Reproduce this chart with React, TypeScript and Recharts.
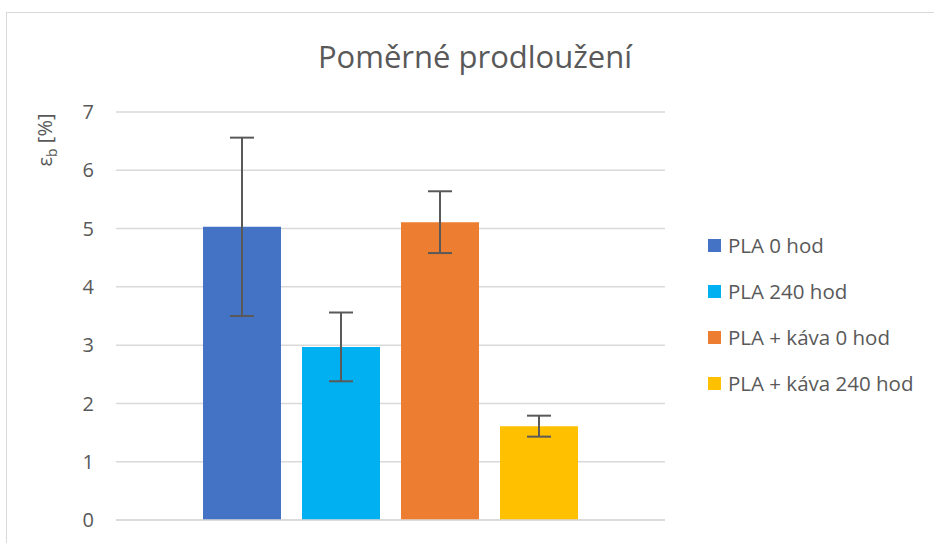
import React from 'react';
import { BarChart, Bar, XAxis, YAxis, CartesianGrid, ErrorBar } from 'recharts';

const categories = [''];
const seriesNames = ['PLA 0 hod', 'PLA 240 hod', 'PLA + káva 0 hod', 'PLA + káva 240 hod'];
const seriesValues = [5.03, 2.97, 5.11, 1.61];
const seriesErrors = [1.53, 0.59, 0.53, 0.18];
const yTicks = [0, 1, 2, 3, 4, 5, 6, 7];

const colors = ['#4472C4', '#00B0F0', '#ED7D31', '#FFC000'];
const textColor = '#595959';
const font = '"Open Sans", sans-serif';

const data = categories.map((name) => {
    const row: any = { name };
    seriesNames.forEach((_, i) => {
        row['s' + i] = seriesValues[i];
        row['e' + i] = seriesErrors[i];
    });
    return row;
});

const AxisTitle = (props: any) => {
    const { viewBox } = props;
    const x = viewBox.x + 52;
    const y = viewBox.y + 28;
    return (
        <text
            x={x}
            y={y}
            transform={`rotate(-90 ${x} ${y})`}
            textAnchor="middle"
            fill={textColor}
            fontSize={20}
            fontFamily={font}
        >
            ε<tspan fontSize={14} dy={5}>b</tspan>
            <tspan dy={-5}> [%]</tspan>
        </text>
    );
};

// legend drawn beside the chart, in series order
const LegendBox = () => (
    <div style={{ position: 'absolute', left: 708, top: 222, fontFamily: font }}>
        {seriesNames.map((s, i) => (
            <div key={s} style={{ display: 'flex', alignItems: 'center', height: 46 }}>
                <span style={{ width: 13, height: 13, background: colors[i], marginRight: 7, display: 'inline-block' }} />
                <span style={{ fontSize: 20.5, color: textColor, whiteSpace: 'nowrap' }}>{s}</span>
            </div>
        ))}
    </div>
);

const App: React.FC = () => {
    return (
        <div style={{ position: 'fixed', left: 0, top: 0, width: 934, height: 543, background: '#fff', overflow: 'hidden' }}>
            <div style={{ position: 'absolute', left: 6, top: 12, width: 960, height: 560, border: '1px solid #D9D9D9' }} />
            <div
                style={{
                    position: 'absolute',
                    left: 0,
                    width: 950,
                    top: 35,
                    textAlign: 'center',
                    fontFamily: font,
                    fontSize: 31,
                    color: textColor,
                }}
            >
                Poměrné prodloužení
            </div>
            <BarChart
                width={934}
                height={543}
                data={data}
                margin={{ top: 112, right: 269, bottom: 0, left: 0 }}
                barSize={78}
                barGap={21}
            >
                <CartesianGrid vertical={false} stroke="#D9D9D9" strokeWidth={1.5} />
                <XAxis dataKey="name" tick={false} tickLine={false} axisLine={{ stroke: '#D9D9D9', strokeWidth: 1.5 }} height={23} />
                <YAxis
                    width={116}
                    domain={[0, 7]}
                    ticks={yTicks}
                    interval={0}
                    axisLine={false}
                    tickLine={false}
                    tickSize={0}
                    tickMargin={22}
                    tick={{ fill: textColor, fontSize: 20, fontFamily: font }}
                    label={<AxisTitle />}
                />
                {seriesNames.map((s, i) => (
                    <Bar key={s} dataKey={'s' + i} name={s} fill={colors[i]} isAnimationActive={false}>
                        <ErrorBar dataKey={'e' + i} width={12} strokeWidth={2} stroke="#595959" direction="y" isAnimationActive={false} />
                    </Bar>
                ))}
            </BarChart>
            <LegendBox />
        </div>
    );
};

export default App;
